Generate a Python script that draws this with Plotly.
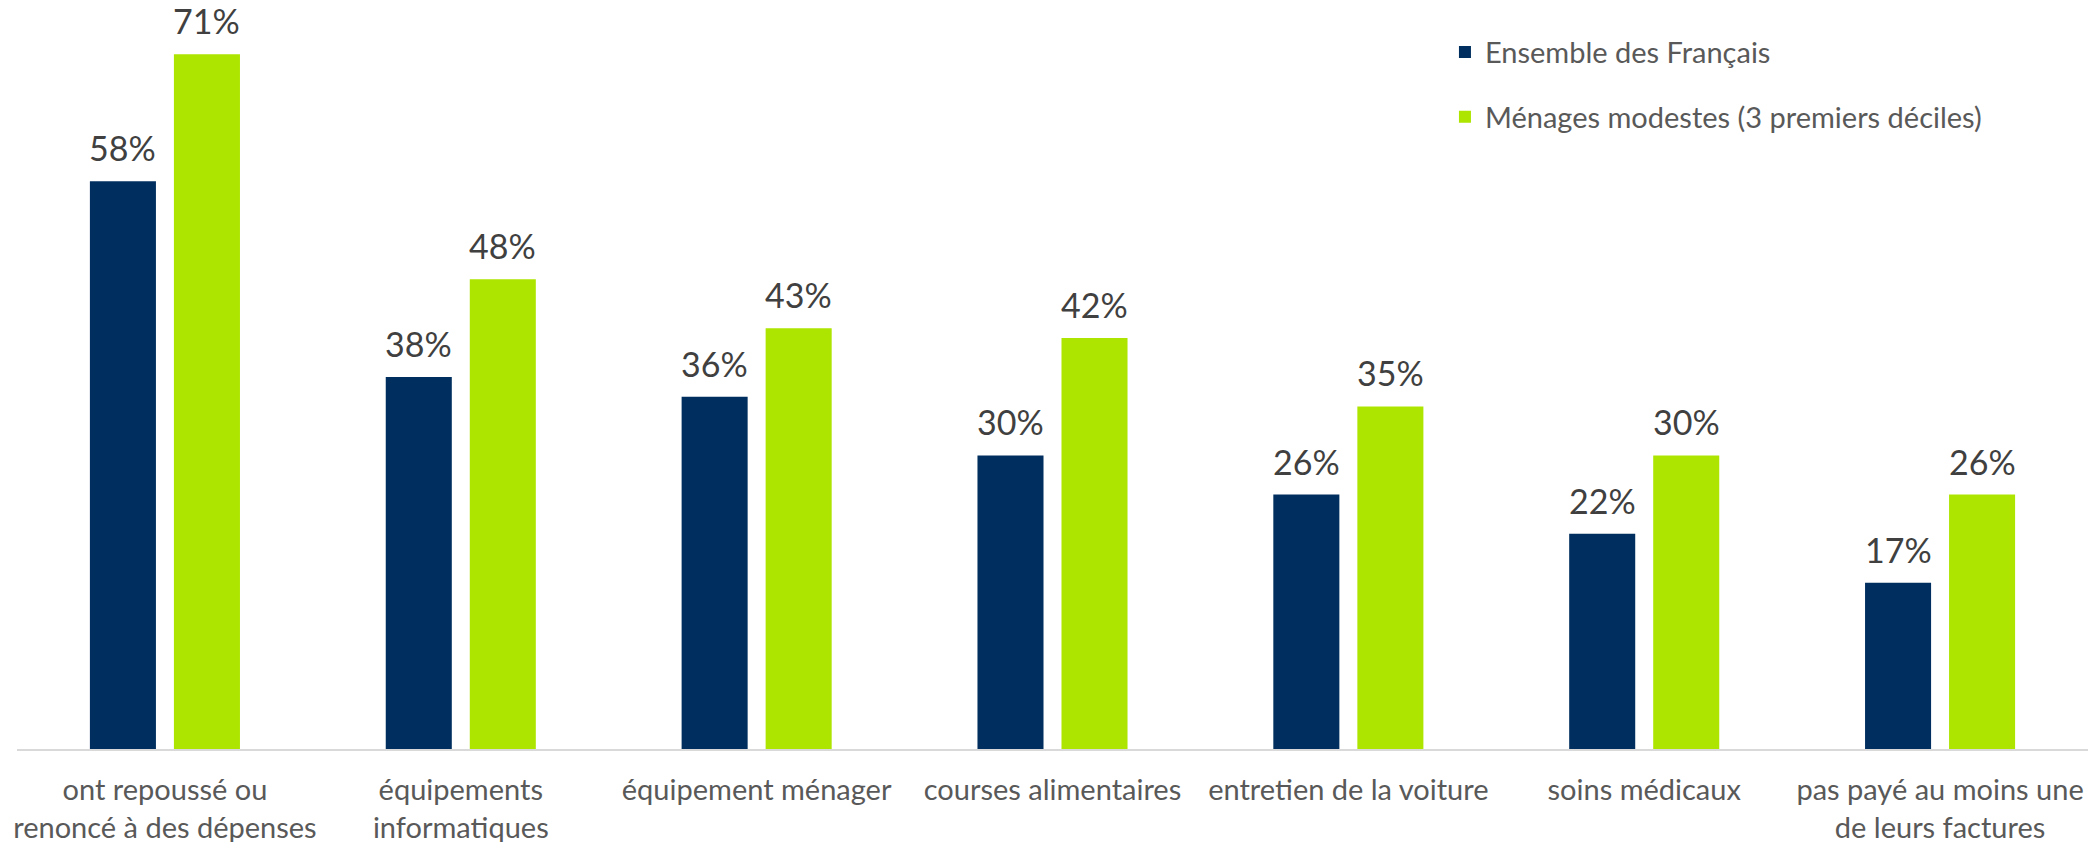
import plotly.graph_objects as go

categories = [
    "ont repoussé ou<br>renoncé à des dépenses",
    "équipements<br>informatiques",
    "équipement ménager",
    "courses alimentaires",
    "entretien de la voiture",
    "soins médicaux",
    "pas payé au moins une<br>de leurs factures",
]
series_names = ["Ensemble des Français", "Ménages modestes (3 premiers déciles)"]
ensemble = [58, 38, 36, 30, 26, 22, 17]
modestes = [71, 48, 43, 42, 35, 30, 26]

colors = ["#002F5F", "#AEE500"]
W, H = 2093, 842
margin = dict(l=17, r=5, t=15, b=93)

fig = go.Figure()
for i, (name, vals) in enumerate(zip(series_names, [ensemble, modestes])):
    fig.add_trace(go.Bar(
        x=categories, y=vals, name=name, marker_color=colors[i],
        marker_line_width=0, legendgroup=f"g{i}", hoverinfo="skip",
    ))

plot_w = W - margin["l"] - margin["r"]
cat_w = plot_w / len(categories)
bargap = 0.432
offset = cat_w * (1 - bargap) / 4
for i, vals in enumerate([ensemble, modestes]):
    sign = -1 if i == 0 else 1
    for c, v in zip(categories, vals):
        fig.add_annotation(
            x=c, y=v, text=f"{v}%", showarrow=False,
            xshift=sign * offset, yshift=11, yanchor="bottom",
            font=dict(family="Lato", size=34, color="#404040"),
        )

fig.update_layout(
    width=W, height=H, margin=margin,
    paper_bgcolor="white", plot_bgcolor="white",
    barmode="group", bargap=bargap, bargroupgap=0.214,
    showlegend=True,
    legend=dict(
        x=0.6895, y=0.984, xanchor="left", yanchor="top",
        font=dict(family="Lato", size=29, color="#595959"),
        tracegroupgap=24, bgcolor="rgba(0,0,0,0)",
    ),
    xaxis=dict(
        showline=True, linecolor="#D9D9D9", linewidth=2, ticks="",
        tickfont=dict(family="Lato", size=29, color="#595959"),
        showgrid=False, ticklabelstandoff=14, automargin=False,
    ),
    yaxis=dict(range=[0, 75], visible=False, showgrid=False, automargin=False),
)

fig.write_html(
    "out.html",
    config={"displayModeBar": False},
    post_script="document.body.style.margin='0';document.body.style.overflow='hidden';",
)
